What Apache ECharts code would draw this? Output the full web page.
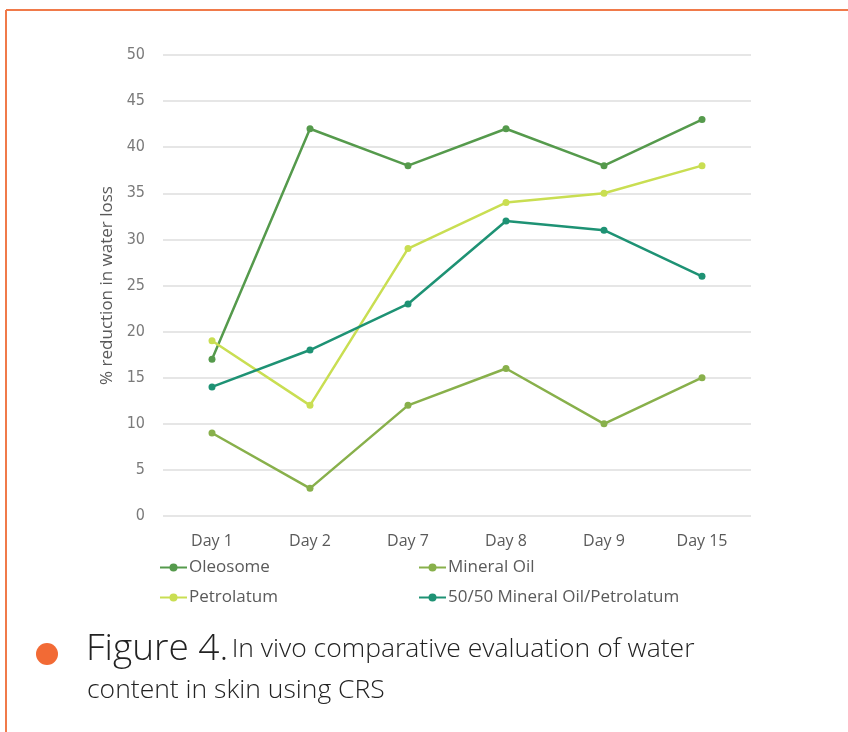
<!DOCTYPE html>
<html>
<head>
<meta charset="utf-8">
<script src="https://cdn.jsdelivr.net/npm/echarts@6/dist/echarts.min.js"></script>
<style>
  html, body { margin: 0; padding: 0; background: #ffffff; }
  #chart { width: 848px; height: 732px; }
</style>
</head>
<body>
<div id="chart"></div>
<script>
// Days of measurement
const days = ['Day 1', 'Day 2', 'Day 7', 'Day 8', 'Day 9', 'Day 15'];

// % reduction in water loss per treatment
const oleosome = [17, 42, 38, 42, 38, 43];
const mineralOil = [9, 3, 12, 16, 10, 15];
const petrolatum = [19, 12, 29, 34, 35, 38];
const mix5050 = [14, 18, 23, 32, 31, 26];

const seriesNames = ['Oleosome', 'Mineral Oil', 'Petrolatum', '50/50 Mineral Oil/Petrolatum'];
const seriesColors = ['#559a4c', '#88b04b', '#c9de52', '#1e9274'];

const chart = echarts.init(document.getElementById('chart'));

function lineSeries(name, data, color) {
  return {
    name: name,
    type: 'line',
    data: data,
    symbol: 'circle',
    symbolSize: 7,
    lineStyle: { width: 2.5, color: color },
    itemStyle: { color: color },
    emphasis: { disabled: true }
  };
}

const tickFont = '"Liberation Sans Narrow", "DejaVu Sans Condensed", sans-serif';
const legendText = { color: '#5a5a5a', fontSize: 17, fontFamily: '"Open Sans", sans-serif', padding: [0, 0, 0, -3] };
const captionFont = '"Open Sans", "Liberation Sans", sans-serif';

function legendColumn(names, left) {
  return {
    data: names,
    orient: 'vertical',
    left: left,
    top: 559,
    padding: 0,
    itemGap: 13,
    itemWidth: 27,
    itemHeight: 10,
    textStyle: legendText
  };
}

chart.setOption({
  animation: false,
  grid: { left: 163, right: 97, top: 55, bottom: 216 },
  xAxis: {
    type: 'category',
    data: days,
    boundaryGap: true,
    axisLine: { show: false },
    axisTick: { show: false },
    axisLabel: { color: '#5a5a5a', fontSize: 16, fontFamily: '"Open Sans", sans-serif', margin: 17 }
  },
  yAxis: {
    type: 'value',
    min: 0,
    max: 50,
    interval: 5,
    name: '% reduction in water loss',
    nameLocation: 'middle',
    nameGap: 44,
    nameTextStyle: { color: '#5a5a5a', fontSize: 17, fontFamily: '"Open Sans", sans-serif' },
    axisLine: { show: false },
    axisTick: { show: false },
    axisLabel: { color: '#7a7a7a', fontSize: 16, fontFamily: tickFont, margin: 18 },
    splitLine: { lineStyle: { color: '#e6e6e6', width: 2 } }
  },
  legend: [
    legendColumn([seriesNames[0], seriesNames[2]], 159),
    legendColumn([seriesNames[1], seriesNames[3]], 418)
  ],
  series: [
    lineSeries(seriesNames[0], oleosome, seriesColors[0]),
    lineSeries(seriesNames[1], mineralOil, seriesColors[1]),
    lineSeries(seriesNames[2], petrolatum, seriesColors[2]),
    lineSeries(seriesNames[3], mix5050, seriesColors[3])
  ],
  graphic: [
    // orange frame along the top and left edges
    { type: 'line', shape: { x1: 6, y1: 10, x2: 848, y2: 10 }, style: { stroke: '#f07a4a', lineWidth: 2 } },
    { type: 'line', shape: { x1: 6, y1: 10, x2: 6, y2: 732 }, style: { stroke: '#f07a4a', lineWidth: 2 } },
    // caption bullet
    { type: 'circle', shape: { cx: 47, cy: 654, r: 11 }, style: { fill: '#f26a35' } },
    // caption
    {
      type: 'text', left: 86, top: 631,
      style: {
        rich: {
          a: { fontSize: 37, fontWeight: 300, fontFamily: captionFont, fill: '#222' },
          b: { fontSize: 26.5, fontWeight: 300, fontFamily: captionFont, fill: '#222' }
        },
        text: '{a|Figure 4.} {b|In vivo comparative evaluation of water}'
      }
    },
    {
      type: 'text', left: 87, top: 677,
      style: {
        text: 'content in skin using CRS',
        fontSize: 26.5,
        fontWeight: 300,
        fontFamily: captionFont,
        fill: '#222'
      }
    }
  ]
});
</script>
</body>
</html>
